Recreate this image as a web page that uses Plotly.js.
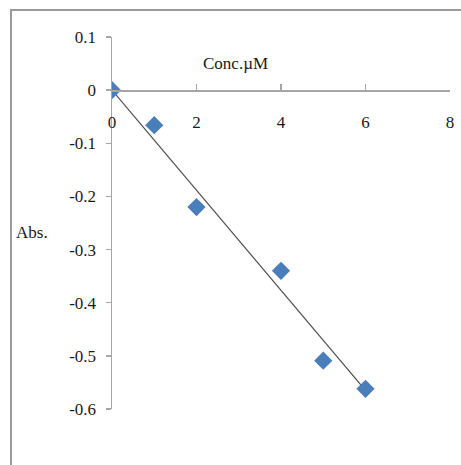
<!DOCTYPE html>
<html>
<head>
<meta charset="utf-8">
<script src="https://cdn.plot.ly/plotly-3.0.1.min.js"></script>
<style>
html,body{margin:0;padding:0;background:#fff;}
#wrap{position:absolute;left:0;top:0;width:461px;height:465px;}
#frame{position:absolute;left:10px;top:9px;width:470px;height:470px;border-top:2px solid #9a9a9a;border-left:2px solid #9a9a9a;pointer-events:none;}
#chart{position:absolute;left:0;top:0;width:461px;height:465px;}
</style>
</head>
<body>
<div id="wrap">
<div id="chart"></div>
<div id="frame"></div>
</div>
<script>
// Data
const conc = [0, 1, 2, 4, 5, 6];
const abs = [0, -0.066, -0.22, -0.34, -0.509, -0.562];
// Linear trend line endpoints
const trendX = [0, 6];
const trendY = [0, -0.565];
// Tick labels
const xTicks = [0, 2, 4, 6, 8];
const xTickText = ['0', '2', '4', '6', '8'];
const yTicks = [0.1, 0, -0.1, -0.2, -0.3, -0.4, -0.5, -0.6];
const yTickText = ['0.1', '0', '-0.1', '-0.2', '-0.3', '-0.4', '-0.5', '-0.6'];
const xTitle = 'Conc.\u00b5M';
const yTitle = 'Abs.';

const yMin = -0.6, yMax = 0.1;
const FAM = 'Liberation Serif';
function f() { return {family: FAM, size: 17, color: '#1a1a1a'}; }

const traces = [
  {
    x: trendX, y: trendY, mode: 'lines', type: 'scatter',
    line: {color: '#4d4d4d', width: 1.2}, hoverinfo: 'skip', showlegend: false
  },
  {
    x: conc, y: abs, mode: 'markers', type: 'scatter',
    marker: {symbol: 'diamond', size: 14, color: '#4a7ebb', line: {width: 0}},
    showlegend: false
  }
];

const layout = {
  width: 461, height: 465,
  margin: {l: 112, r: 11, t: 37, b: 56, pad: 0},
  paper_bgcolor: '#ffffff', plot_bgcolor: '#ffffff',
  font: f(),
  showlegend: false,
  xaxis: {
    range: [0, 8], tickmode: 'array', tickvals: xTicks, ticktext: xTickText,
    showgrid: false, zeroline: false,
    showline: true, linecolor: '#a6a6a6', linewidth: 1.5,
    ticks: 'inside', ticklen: 6, tickcolor: '#a6a6a6', tickwidth: 1.5,
    anchor: 'free', position: (0 - yMin) / (yMax - yMin),
    side: 'bottom', ticklabelstandoff: 16,
    tickfont: f(), fixedrange: true
  },
  yaxis: {
    range: [yMin, yMax], tickmode: 'array', tickvals: yTicks, ticktext: yTickText,
    showgrid: false, zeroline: false,
    showline: true, linecolor: '#a6a6a6', linewidth: 1.5,
    ticks: 'outside', ticklen: 5, tickcolor: '#a6a6a6', tickwidth: 1.5,
    ticklabelstandoff: 6,
    tickfont: f(), fixedrange: true
  },
  annotations: [
    {text: xTitle, xref: 'paper', yref: 'paper', x: (235 - 112) / 338, y: (409 - 63) / 372,
     xanchor: 'center', yanchor: 'middle', showarrow: false, font: f()},
    {text: yTitle, xref: 'paper', yref: 'paper', x: (32 - 112) / 338, y: (409 - 232) / 372,
     xanchor: 'center', yanchor: 'middle', showarrow: false, font: f()}
  ]
};

Plotly.newPlot('chart', traces, layout, {staticPlot: true, displayModeBar: false});
</script>
</body>
</html>
